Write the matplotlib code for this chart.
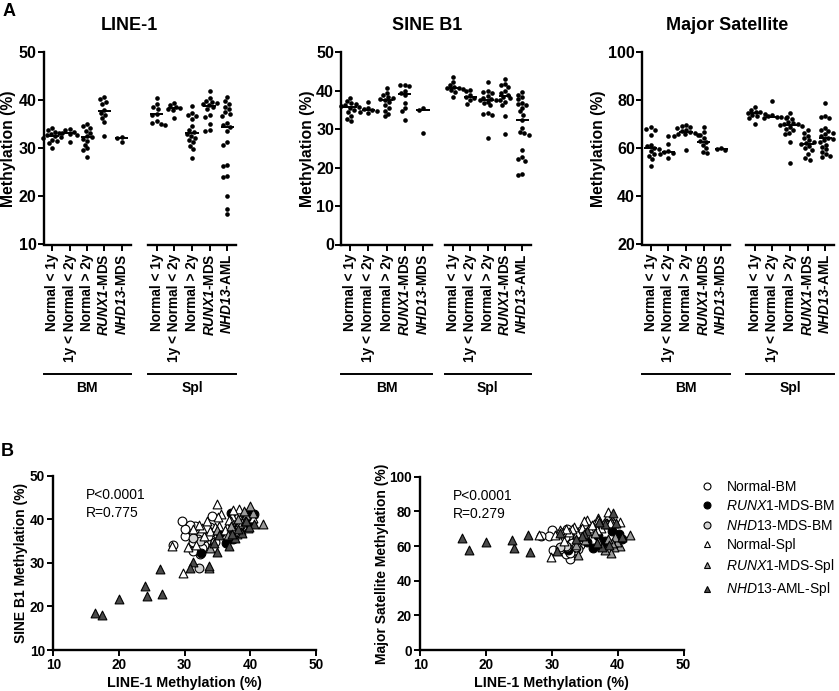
import numpy as np
import matplotlib
matplotlib.use("Agg")
import matplotlib.pyplot as plt
from matplotlib.lines import Line2D

plt.rcParams['font.family'] = ['Liberation Sans', 'DejaVu Sans']
plt.rcParams['mathtext.fontset'] = 'custom'
plt.rcParams['mathtext.rm'] = 'Liberation Sans'
plt.rcParams['mathtext.it'] = 'Liberation Sans:italic'
plt.rcParams['mathtext.bf'] = 'Liberation Sans:bold'
plt.rcParams['mathtext.bfit'] = 'Liberation Sans:bold:italic'

# ---- per-sample values, same order in the three assays ----
# bone marrow
line1_bm_lt1y = [34.3, 33.8, 33.5, 33.2, 32.9, 32.7, 32.5, 32.3, 32.1, 31.8, 31.5, 31.2, 30.1]
sine_bm_lt1y = [36.0, 38.2, 35.1, 36.5, 33.4, 37.3, 35.8, 32.0, 36.8, 34.4, 35.5, 32.7, 36.2]
majsat_bm_lt1y = [60.8, 68.2, 57.0, 65.7, 59.6, 52.5, 68.8, 61.5, 55.5, 60.2, 67.8, 59.0, 57.6]

line1_bm_1to2y = [34.0, 33.8, 33.5, 33.2, 33.0, 32.8, 31.3]
sine_bm_1to2y = [35.2, 37.0, 34.5, 35.0, 34.2, 35.6, 34.8]
majsat_bm_1to2y = [58.2, 65.2, 57.6, 58.8, 62.0, 55.9, 58.5]

line1_bm_gt2y = [35.0, 34.6, 34.2, 33.6, 33.2, 32.6, 32.3, 32.0, 31.6, 30.8, 30.0, 29.6, 28.3]
sine_bm_gt2y = [37.6, 34.8, 40.7, 36.2, 38.0, 33.3, 37.0, 35.4, 38.4, 38.8, 37.8, 39.5, 34.0]
majsat_bm_gt2y = [66.2, 69.4, 67.2, 59.4, 68.5, 66.6, 69.8, 65.2, 67.7, 66.9, 69.0, 65.8, 65.5]

line1_bm_runx1 = [40.6, 40.2, 39.7, 39.2, 38.0, 37.4, 37.0, 36.3, 35.4, 32.5]
sine_bm_runx1 = [41.2, 39.4, 41.5, 40.0, 38.8, 35.5, 41.4, 34.6, 36.8, 32.3]
majsat_bm_runx1 = [64.2, 66.8, 61.4, 68.8, 63.0, 60.0, 65.6, 58.6, 62.6, 57.9]

line1_bm_nhd13 = [32.3, 32.2, 31.3]
sine_bm_nhd13 = [35.0, 28.9, 35.6]
majsat_bm_nhd13 = [59.6, 60.0, 59.2]

# spleen
line1_spl_lt1y = [40.4, 39.2, 38.6, 38.3, 37.2, 37.0, 35.6, 35.3, 35.1, 34.9]
sine_spl_lt1y = [40.4, 41.5, 40.2, 42.3, 40.8, 39.6, 41.1, 38.5, 40.6, 43.6]
majsat_spl_lt1y = [74.0, 75.3, 77.2, 73.5, 74.7, 75.9, 70.3, 75.0, 72.8, 74.4]

line1_spl_1to2y = [39.5, 39.0, 38.6, 38.4, 38.2, 37.9, 36.4]
sine_spl_1to2y = [38.4, 40.2, 37.5, 40.0, 38.9, 36.6, 38.2]
majsat_spl_1to2y = [73.2, 73.9, 79.8, 72.5, 73.5, 73.0, 72.8]

line1_spl_gt2y = [38.8, 37.4, 37.0, 36.8, 36.1, 34.6, 33.8, 33.4, 33.0, 32.6, 32.2, 31.8, 31.3, 30.5, 29.8, 28.0]
sine_spl_gt2y = [39.3, 42.2, 36.7, 39.9, 37.5, 38.2, 37.2, 39.6, 36.2, 37.9, 38.6, 34.2, 37.7, 33.6, 27.7, 33.9]
majsat_spl_gt2y = [73.2, 70.2, 74.8, 69.0, 72.4, 70.6, 67.6, 71.1, 69.8, 68.2, 70.0, 62.8, 69.4, 66.6, 53.8, 66.2]

line1_spl_runx1 = [41.9, 40.4, 39.9, 39.6, 39.4, 39.2, 39.0, 38.6, 38.1, 37.0, 36.6, 35.0, 33.9, 33.7]
sine_spl_runx1 = [39.0, 41.4, 43.1, 38.0, 40.9, 39.5, 41.8, 37.1, 40.0, 38.5, 36.3, 37.6, 33.3, 28.8]
majsat_spl_runx1 = [66.4, 60.0, 62.2, 65.2, 59.3, 61.8, 55.8, 64.2, 57.5, 62.8, 67.6, 63.4, 55.0, 60.8]

line1_spl_nhd13 = [40.6, 39.8, 39.3, 38.7, 38.1, 37.6, 37.2, 36.8, 35.3, 34.9, 34.5, 33.7, 31.3, 30.8,
                   26.6, 26.3, 24.2, 24.0, 20.0, 17.4, 16.4]
sine_spl_nhd13 = [39.0, 38.3, 39.6, 36.9, 37.8, 35.6, 36.6, 33.8, 36.3, 32.5, 34.6, 29.2, 30.2, 28.9,
                  22.8, 28.6, 22.3, 24.6, 21.8, 18.0, 18.4]
majsat_spl_nhd13 = [65.0, 73.0, 78.8, 60.6, 72.6, 59.6, 73.6, 61.6, 68.6, 67.2, 65.8, 64.0, 67.8, 57.0,
                    56.4, 66.6, 58.6, 63.4, 62.6, 57.6, 64.4]

bm_labels = ['Normal < 1y', '1y < Normal < 2y', 'Normal > 2y',
             r'$\bfit{RUNX1}$-MDS', r'$\bfit{NHD13}$-MDS']
spl_labels = ['Normal < 1y', '1y < Normal < 2y', 'Normal > 2y',
              r'$\bfit{RUNX1}$-MDS', r'$\bfit{NHD13}$-AML']

line1_bm = [line1_bm_lt1y, line1_bm_1to2y, line1_bm_gt2y, line1_bm_runx1, line1_bm_nhd13]
line1_spl = [line1_spl_lt1y, line1_spl_1to2y, line1_spl_gt2y, line1_spl_runx1, line1_spl_nhd13]
sine_bm = [sine_bm_lt1y, sine_bm_1to2y, sine_bm_gt2y, sine_bm_runx1, sine_bm_nhd13]
sine_spl = [sine_spl_lt1y, sine_spl_1to2y, sine_spl_gt2y, sine_spl_runx1, sine_spl_nhd13]
majsat_bm = [majsat_bm_lt1y, majsat_bm_1to2y, majsat_bm_gt2y, majsat_bm_runx1, majsat_bm_nhd13]
majsat_spl = [majsat_spl_lt1y, majsat_spl_1to2y, majsat_spl_gt2y, majsat_spl_runx1, majsat_spl_nhd13]

W, H = 839, 691
fig = plt.figure(figsize=(W / 100, H / 100), dpi=100)


def px_axes(x0, y0, x1, y1):
    return fig.add_axes([x0 / W, 1 - y1 / H, (x1 - x0) / W, (y1 - y0) / H])


def swarm(vals, ppu_y, d=4.6):
    # simple beeswarm: pixel offsets so dots do not overlap
    vals = np.asarray(vals, float)
    order = np.argsort(vals)[::-1]
    placed = []
    offs = np.zeros(len(vals))
    for i in order:
        y = vals[i] * ppu_y
        cands = [0.0]
        near = []
        for (px, py) in placed:
            dy = abs(py - y)
            if dy < d:
                r = np.sqrt(d * d - dy * dy)
                near.append((px, r))
                cands += [px - r, px + r]
        cands = sorted(cands, key=lambda c: (abs(c), c))
        for c in cands:
            if all(abs(c - px) >= r - 1e-6 for px, r in near):
                offs[i] = c
                break
        placed.append((offs[i], y))
    return offs


def dot_panel(xb, xs, ylim, yticks, bm_vals, spl_vals, title, title_x, ylab_x):
    top, bot = 52.3, 244.5
    ax1 = px_axes(xb[0], top, xb[1], bot)
    ax2 = px_axes(xs[0], top, xs[1], bot)
    for ax, groups, labels in [(ax1, bm_vals, bm_labels), (ax2, spl_vals, spl_labels)]:
        ax.set_xlim(-0.5, 4.5)
        ax.set_ylim(*ylim)
        ppu_y = (bot - top) / (ylim[1] - ylim[0])
        ppu_x = (ax.get_position().width * W) / 5.0
        for i, v in enumerate(groups):
            off = swarm(v, ppu_y) / ppu_x
            ax.scatter(i + off, v, s=11, color='black', linewidths=0, zorder=3, clip_on=False)
            ax.hlines(np.median(v), i - 0.37, i + 0.37, color='black', lw=1.4, zorder=4)
        ax.set_xticks(range(5))
        ax.set_xticklabels(labels, rotation=90, fontsize=9.8, fontweight='bold')
        for s in ['top', 'right']:
            ax.spines[s].set_visible(False)
        ax.spines['bottom'].set_linewidth(1.7)
        ax.spines['left'].set_linewidth(1.7)
        ax.tick_params(axis='x', length=4.5, width=1.4, pad=2)
        ax.tick_params(axis='y', length=4, width=1.4, pad=1, labelsize=11.5)
    ax1.set_yticks(yticks)
    for t in ax1.get_yticklabels():
        t.set_fontweight('bold')
    ax2.set_yticks([])
    ax2.spines['left'].set_visible(False)
    ax1.set_ylabel('Methylation (%)', fontsize=11.3, fontweight='bold')
    ax1.yaxis.set_label_coords(ylab_x, 0.5)
    for ax, name in [(ax1, 'BM'), (ax2, 'Spl')]:
        ax.plot([0, 1], [-0.675, -0.675], color='black', lw=1.4,
                transform=ax.transAxes, clip_on=False)
        ax.text(0.5, -0.745, name, transform=ax.transAxes, ha='center', va='center',
                fontsize=10, fontweight='bold')
    fig.text(title_x / W, 1 - 26 / H, title, ha='center', va='center',
             fontsize=13, fontweight='bold')


dot_panel((43.5, 130.5), (148, 236), (10, 50), [10, 20, 30, 40, 50],
          line1_bm, line1_spl, 'LINE-1', 129, -0.316)
dot_panel((341, 432), (444.5, 531), (0, 50), [0, 10, 20, 30, 40, 50],
          sine_bm, sine_spl, 'SINE B1', 427, -0.291)
dot_panel((642, 730), (746, 834), (20, 100), [20, 40, 60, 80, 100],
          majsat_bm, majsat_spl, 'Major Satellite', 727, -0.409)

fig.text(3 / W, 1 - 11 / H, 'A', fontsize=13, fontweight='bold', va='center')
fig.text(1 / W, 1 - 451 / H, 'B', fontsize=13, fontweight='bold', va='center')

# ---- panel B scatter groups ----
scatter_groups = [
    ('Normal-BM', line1_bm_lt1y + line1_bm_1to2y + line1_bm_gt2y,
     sine_bm_lt1y + sine_bm_1to2y + sine_bm_gt2y,
     majsat_bm_lt1y + majsat_bm_1to2y + majsat_bm_gt2y, 'o', 'white'),
    (r'$\it{RUNX1}$-MDS-BM', line1_bm_runx1, sine_bm_runx1, majsat_bm_runx1, 'o', 'black'),
    (r'$\it{NHD13}$-MDS-BM', line1_bm_nhd13, sine_bm_nhd13, majsat_bm_nhd13, 'o', '#d4d4d4'),
    ('Normal-Spl', line1_spl_lt1y + line1_spl_1to2y + line1_spl_gt2y,
     sine_spl_lt1y + sine_spl_1to2y + sine_spl_gt2y,
     majsat_spl_lt1y + majsat_spl_1to2y + majsat_spl_gt2y, '^', 'white'),
    (r'$\it{RUNX1}$-MDS-Spl', line1_spl_runx1, sine_spl_runx1, majsat_spl_runx1, '^', '#9a9a9a'),
    (r'$\it{NHD13}$-AML-Spl', line1_spl_nhd13, sine_spl_nhd13, majsat_spl_nhd13, '^', '#4a4a4a'),
]

axL = px_axes(53.3, 475.7, 316, 650)
axR = px_axes(420.3, 476.7, 683.5, 650)
for ax, idx, ylim, yticks, ylab, stat in [
        (axL, 2, (10, 50), [10, 20, 30, 40, 50], 'SINE B1 Methylation (%)', 'P<0.0001\nR=0.775'),
        (axR, 3, (0, 100), [0, 20, 40, 60, 80, 100], 'Major Satellite Methylation (%)', 'P<0.0001\nR=0.279')]:
    for g in scatter_groups:
        ax.scatter(g[1], g[idx], marker=g[4], s=40, facecolor=g[5], edgecolor='black',
                   linewidths=0.8, zorder=3, label=g[0])
    ax.set_xlim(10, 50)
    ax.set_ylim(*ylim)
    ax.set_xticks([10, 20, 30, 40, 50])
    ax.set_yticks(yticks)
    for s in ['top', 'right']:
        ax.spines[s].set_visible(False)
    ax.spines['bottom'].set_linewidth(1.7)
    ax.spines['left'].set_linewidth(1.7)
    ax.tick_params(length=4, width=1.4, pad=2, labelsize=9.8)
    for t in ax.get_xticklabels() + ax.get_yticklabels():
        t.set_fontweight('bold')
    ax.set_xlabel('LINE-1 Methylation (%)', fontsize=10.3, fontweight='bold')
    ax.xaxis.set_label_coords(0.5, -0.15)
    ax.set_ylabel(ylab, fontsize=10, fontweight='bold')
    ax.text(0.125, 0.93, stat, transform=ax.transAxes, ha='left', va='top',
            fontsize=10, linespacing=1.35)
axL.yaxis.set_label_coords(-0.096, 0.5)
axR.yaxis.set_label_coords(-0.12, 0.5)

handles = [Line2D([], [], linestyle='none', marker=g[4], markersize=5, markerfacecolor=g[5],
                  markeredgecolor='black', markeredgewidth=0.8) for g in scatter_groups]
fig.legend(handles, [g[0] for g in scatter_groups], loc='upper left',
           bbox_to_anchor=(700 / W, 1 - 480 / H), frameon=False, fontsize=10,
           handlelength=1.0, handletextpad=0.9, labelspacing=0.38, borderpad=0, borderaxespad=0)

fig.savefig('out.png', dpi=100)
